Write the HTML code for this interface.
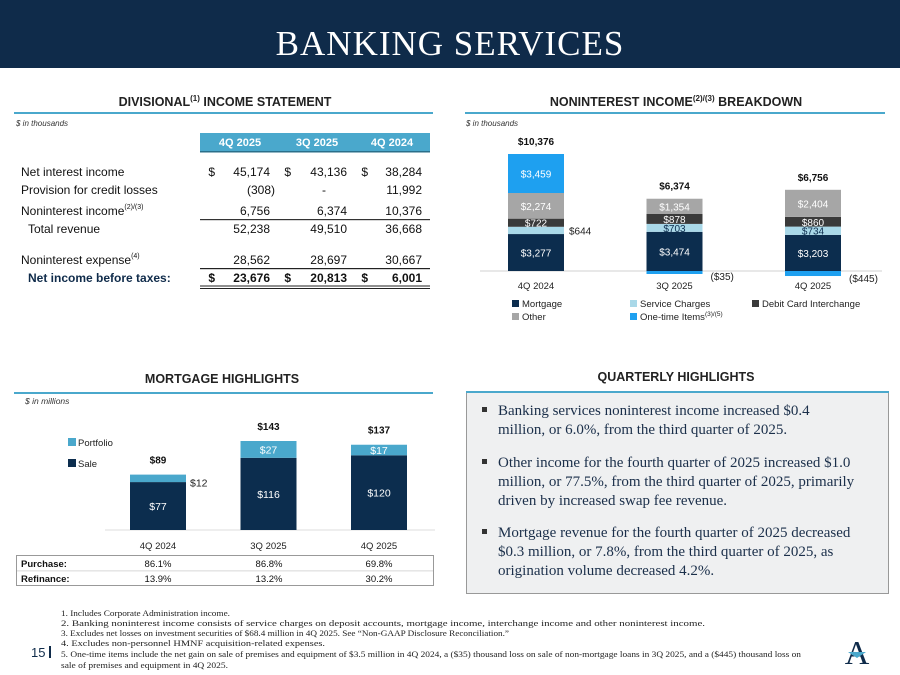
<!DOCTYPE html>
<html><head><meta charset="utf-8">
<style>
html,body{margin:0;padding:0;background:#fff;}
svg{display:block;font-family:"Liberation Sans",sans-serif;}
</style></head>
<body>
<svg id="page" width="900" height="675" viewBox="0 0 900 675">
  <rect x="0" y="0" width="900" height="68" fill="#0f2b4a"/>
  <text x="450" y="55" text-anchor="middle" fill="#fff" font-family="Liberation Serif,serif" font-size="35" letter-spacing="1">BANKING SERVICES</text>

  <!-- Left: income statement -->
  <g>
    <text x="225" y="106" text-anchor="middle" font-size="12.5" font-weight="bold" fill="#222">DIVISIONAL<tspan font-size="8" dy="-5">(1)</tspan><tspan dy="5"> INCOME STATEMENT</tspan></text>
    <rect x="14" y="112" width="419" height="2" fill="#4aa8cc"/>
    <text x="16" y="126" font-size="8" font-style="italic" fill="#333">$ in thousands</text>
    <rect x="200" y="133" width="230" height="18" fill="#4aa8cc"/>
    <rect x="200" y="151" width="230" height="1.5" fill="#2a6f8a"/>
    <g font-size="11" fill="#fff" font-weight="bold" text-anchor="middle">
      <text x="240" y="146">4Q 2025</text><text x="317" y="146">3Q 2025</text><text x="392" y="146">4Q 2024</text>
    </g>
    <g font-size="12" fill="#111">
      <text x="21" y="176">Net interest income</text>
      <text x="21" y="194">Provision for credit losses</text>
      <text x="21" y="215">Noninterest income<tspan font-size="7" dy="-6">(2)/(3)</tspan></text>
      <text x="28" y="233">Total revenue</text>
      <text x="21" y="264">Noninterest expense<tspan font-size="7" dy="-6">(4)</tspan></text>
      <text x="28" y="282" font-weight="bold" fill="#0f2b4a">Net income before taxes:</text>
    </g>
    <g font-size="12" fill="#111" text-anchor="end">
      <text x="215" y="176">$</text><text x="270" y="176">45,174</text><text x="291" y="176">$</text><text x="347" y="176">43,136</text><text x="368" y="176">$</text><text x="422" y="176">38,284</text>
      <text x="275" y="194">(308)</text><text x="326" y="194">-</text><text x="422" y="194">11,992</text>
      <text x="270" y="215">6,756</text><text x="347" y="215">6,374</text><text x="422" y="215">10,376</text>
      <text x="270" y="233">52,238</text><text x="347" y="233">49,510</text><text x="422" y="233">36,668</text>
      <text x="270" y="264">28,562</text><text x="347" y="264">28,697</text><text x="422" y="264">30,667</text>
      <g font-weight="bold"><text x="215" y="282">$</text><text x="270" y="282">23,676</text><text x="291" y="282">$</text><text x="347" y="282">20,813</text><text x="368" y="282">$</text><text x="422" y="282">6,001</text></g>
    </g>
    <rect x="200" y="219" width="230" height="1.2" fill="#333"/>
    <rect x="200" y="268" width="230" height="1.2" fill="#222"/>
    <rect x="200" y="285.5" width="230" height="1" fill="#222"/>
    <rect x="200" y="288" width="230" height="1" fill="#222"/>
  </g>

  <!-- Right: noninterest chart -->
  <g id="nii">
    <text x="676" y="106" text-anchor="middle" font-size="12.5" font-weight="bold" fill="#222">NONINTEREST INCOME<tspan font-size="8" dy="-5">(2)/(3)</tspan><tspan dy="5"> BREAKDOWN</tspan></text>
    <rect x="465" y="112" width="420" height="2" fill="#4aa8cc"/>
    <text x="466" y="126" font-size="8" font-style="italic" fill="#333">$ in thousands</text>
    <rect x="480" y="270.5" width="402" height="1" fill="#d0d0d0"/>
  </g>

  <!-- Mortgage chart -->
  <g id="mort">
    <text x="222" y="383" text-anchor="middle" font-size="12.5" font-weight="bold" fill="#222">MORTGAGE HIGHLIGHTS</text>
    <rect x="14" y="392" width="419" height="2" fill="#4aa8cc"/>
    <text x="25" y="404" font-size="8.5" font-style="italic" fill="#333">$ in millions</text>
    <rect x="105" y="529.5" width="330" height="1" fill="#ddd"/>
    <rect x="68" y="438" width="8" height="8" fill="#4aa8cc"/>
    <text x="78" y="446" font-size="9.5" fill="#222">Portfolio</text>
    <rect x="68" y="459" width="8" height="8" fill="#0c2d4e"/>
    <text x="78" y="467" font-size="9.5" fill="#222">Sale</text>
    <rect x="16.5" y="555.5" width="417" height="30" fill="none" stroke="#999"/>
    <rect x="17" y="570.5" width="416" height="0.8" fill="#ccc"/>
    <g font-size="9.5" fill="#111">
      <text x="21" y="567" font-weight="bold">Purchase:</text>
      <text x="21" y="582" font-weight="bold">Refinance:</text>
      <g text-anchor="middle"><text x="158" y="567">86.1%</text><text x="269" y="567">86.8%</text><text x="379" y="567">69.8%</text>
      <text x="158" y="582">13.9%</text><text x="269" y="582">13.2%</text><text x="379" y="582">30.2%</text></g>
    </g>
  </g>

  <!-- Quarterly highlights -->
  <g>
    <text x="676" y="381" text-anchor="middle" font-size="12.5" font-weight="bold" fill="#222">QUARTERLY HIGHLIGHTS</text>
    <rect x="466.5" y="391.5" width="422" height="202" fill="#eff0f1" stroke="#999"/>
    <rect x="466" y="391" width="423" height="2" fill="#4aa8cc"/>
    <g font-family="Liberation Serif,serif" font-size="15" fill="#1b2f4a">
      <rect x="482" y="407" width="5" height="5" fill="#333"/>
      <text x="498" y="415">Banking services noninterest income increased $0.4</text>
      <text x="498" y="434">million, or 6.0%, from the third quarter of 2025.</text>
      <rect x="482" y="459" width="5" height="5" fill="#333"/>
      <text x="498" y="467">Other income for the fourth quarter of 2025 increased $1.0</text>
      <text x="498" y="486">million, or 77.5%, from the third quarter of 2025, primarily</text>
      <text x="498" y="505">driven by increased swap fee revenue.</text>
      <rect x="482" y="529" width="5" height="5" fill="#333"/>
      <text x="498" y="537">Mortgage revenue for the fourth quarter of 2025 decreased</text>
      <text x="498" y="556">$0.3 million, or 7.8%, from the third quarter of 2025, as</text>
      <text x="498" y="575">origination volume decreased 4.2%.</text>
    </g>
  </g>

  <!-- Footnotes -->
  <g font-family="Liberation Serif,serif" font-size="8.5" fill="#222">
    <text x="61" y="616" textLength="169" lengthAdjust="spacingAndGlyphs">1. Includes Corporate Administration income.</text>
    <text x="61" y="626" textLength="644" lengthAdjust="spacingAndGlyphs">2. Banking noninterest income consists of service charges on deposit accounts, mortgage income, interchange income and other noninterest income.</text>
    <text x="61" y="636" textLength="448" lengthAdjust="spacingAndGlyphs">3. Excludes net losses on investment securities of $68.4 million in 4Q 2025. See “Non-GAAP Disclosure Reconciliation.”</text>
    <text x="61" y="646" textLength="264" lengthAdjust="spacingAndGlyphs">4. Excludes non-personnel HMNF acquisition-related expenses.</text>
    <text x="61" y="657" textLength="740" lengthAdjust="spacingAndGlyphs">5. One-time items include the net gain on sale of premises and equipment of $3.5 million in 4Q 2024, a ($35) thousand loss on sale of non-mortgage loans in 3Q 2025, and a ($445) thousand loss on</text>
    <text x="61" y="668" textLength="167" lengthAdjust="spacingAndGlyphs">sale of premises and equipment in 4Q 2025.</text>
  </g>
  <text x="31" y="657" font-size="13" fill="#0f2b4a">15</text>
  <rect x="49" y="646" width="2" height="12" fill="#0f2b4a"/>
  <g>
    <text x="857" y="664" text-anchor="middle" font-family="Liberation Serif,serif" font-size="34" fill="#0f2b4a">A</text>
    <path d="M848 652 L866 652 L857 658 Z" fill="#4aa8cc"/>
  </g>
</svg>
<script>
const NS='http://www.w3.org/2000/svg';
function mk(parent,tag,attrs,txt){const e=document.createElementNS(NS,tag);for(const k in attrs)e.setAttribute(k,attrs[k]);if(txt!==undefined)e.textContent=txt;parent.appendChild(e);return e;}

// Noninterest income data
const niiCategories=['4Q 2024','3Q 2025','4Q 2025'];
const niiMortgage=[3277,3474,3203];
const niiService=[644,703,734];
const niiDebit=[722,878,860];
const niiOther=[2274,1354,2404];
const niiOneTime=[3459,-35,-445];
const niiTotals=[10376,6374,6756];

// Mortgage data
const mortCategories=['4Q 2024','3Q 2025','4Q 2025'];
const mortSale=[77,116,120];
const mortPortfolio=[12,27,17];
const mortTotals=[89,143,137];

(function(){
  const g=document.getElementById('nii');
  const base=271, k=117/10376, bw=56;
  const xc=i=>536+i*138.5;
  const y=v=>base-v*k;
  const series=[['mortgage',niiMortgage,'#0c2d4e','#fff'],['service-charges',niiService,'#a9d8e8','#0c2d4e'],['debit-card',niiDebit,'#3a3a3a','#fff'],['other',niiOther,'#a6a6a6','#fff'],['one-time',niiOneTime,'#1ea0f0','#fff']];
  niiCategories.forEach((c,i)=>{
    let cum=0, top=base;
    series.forEach(([name,arr,col,tc])=>{
      const v=arr[i];
      let y0,y1;
      if(v>=0){y0=y(cum+v);y1=y(cum);cum+=v;}
      else{y0=base;y1=base+Math.max(-v*k,3);}
      const r=mk(g,'rect',{x:xc(i)-bw/2,y:y0,width:bw,height:Math.max(y1-y0,1),fill:col});
      
      
      const lbl='$'+Math.abs(v).toLocaleString('en-US');
      if(v<0){
        const t=mk(g,'text',{x:xc(i)+bw/2+8,y:y1+6,'font-size':10,fill:'#222'},'('+lbl+')');
        
        
      } else if(name==='service-charges' && (y1-y0)<7.5){
        const t=mk(g,'text',{x:xc(i)+bw/2+5,y:(y0+y1)/2+4,'font-size':10,fill:'#222'},lbl);
        
        
      } else {
        const t=mk(g,'text',{x:xc(i),y:(y0+y1)/2+4,'font-size':10,fill:tc,'text-anchor':'middle'},lbl);
        
        
      }
      if(v>0) top=y0;
    });
    const tt=mk(g,'text',{x:xc(i),y:top-9,'font-size':10,'font-weight':'bold',fill:'#111','text-anchor':'middle'},'$'+niiTotals[i].toLocaleString('en-US'));
    
    
    const ct=mk(g,'text',{x:xc(i),y:289,'font-size':9.5,fill:'#222','text-anchor':'middle'},c);
    
    
  });
  const leg=[['Mortgage','#0c2d4e',512,307],['Service Charges','#a9d8e8',630,307],['Debit Card Interchange','#3a3a3a',752,307],['Other','#a6a6a6',512,320],['One-time Items','#1ea0f0',630,320]];
  leg.forEach(([n,c,x,yy])=>{
    const s=mk(g,'rect',{x:x,y:yy-7,width:7,height:7,fill:c});
    
    
    const t=mk(g,'text',{x:x+10,y:yy,'font-size':9.5,fill:'#222'},n);
    
    
    if(n==='One-time Items') mk(t,'tspan',{'font-size':6.5,dy:-4},'(3)/(5)');
  });
})();

(function(){
  const g=document.getElementById('mort');
  const base=530, k=89/143, bw=56;
  const xc=i=>158+i*110.5;
  mortCategories.forEach((c,i)=>{
    const ys=base-mortSale[i]*k;
    const r=mk(g,'rect',{x:xc(i)-bw/2,y:ys,width:bw,height:mortSale[i]*k,fill:'#0c2d4e'});
    
    
    const yp=ys-mortPortfolio[i]*k;
    const p=mk(g,'rect',{x:xc(i)-bw/2,y:yp,width:bw,height:mortPortfolio[i]*k,fill:'#4aa8cc'});
    
    
    const st=mk(g,'text',{x:xc(i),y:(ys+base)/2+4,'font-size':10.5,fill:'#fff','text-anchor':'middle'},'$'+mortSale[i]);
    
    
    let pt;
    if(ys-yp<9) pt=mk(g,'text',{x:xc(i)+bw/2+4,y:(yp+ys)/2+8,'font-size':10.5,fill:'#222'},'$'+mortPortfolio[i]);
    else pt=mk(g,'text',{x:xc(i),y:(yp+ys)/2+4,'font-size':10.5,fill:'#fff','text-anchor':'middle'},'$'+mortPortfolio[i]);
    
    
    const tt=mk(g,'text',{x:xc(i),y:yp-11,'font-size':10,'font-weight':'bold',fill:'#111','text-anchor':'middle'},'$'+mortTotals[i]);
    
    
    const ct=mk(g,'text',{x:xc(i),y:549,'font-size':9.5,fill:'#222','text-anchor':'middle'},c);
    
    
  });
})();
</script>
</body></html>
